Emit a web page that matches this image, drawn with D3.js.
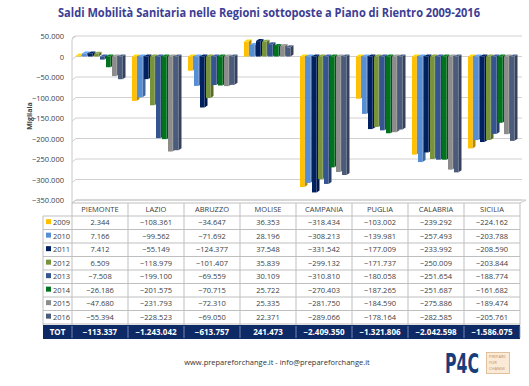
<!DOCTYPE html>
<html>
<head>
<meta charset="utf-8">
<script src="https://cdn.jsdelivr.net/npm/d3@7"></script>
<style>
  body { margin: 0; background: #fff; }
  svg { display: block; }
</style>
</head>
<body>
<div class="canva"></div>
<script>
// dati (migliaia di euro)
const regions = ["PIEMONTE", "LAZIO", "ABRUZZO", "MOLISE", "CAMPANIA", "PUGLIA", "CALABRIA", "SICILIA"];
const years = ["2009", "2010", "2011", "2012", "2013", "2014", "2015", "2016"];
const v2009 = [2344, -108361, -34647, 36353, -318434, -103002, -239292, -224162];
const v2010 = [7166, -99562, -71692, 28196, -308213, -139981, -257493, -203788];
const v2011 = [7412, -55149, -124377, 37548, -331542, -177009, -233992, -208590];
const v2012 = [6509, -118979, -101407, 35839, -299132, -171737, -250009, -203844];
const v2013 = [-7508, -199100, -69559, 30109, -310810, -180058, -251654, -188774];
const v2014 = [-26186, -201575, -70715, 25722, -270403, -187265, -251687, -161682];
const v2015 = [-47680, -231793, -72310, 25335, -281750, -184590, -275886, -189474];
const v2016 = [-55394, -228523, -69050, 22371, -289066, -178164, -282585, -205761];
const totals = [-113337, -1243042, -613757, 241473, -2409350, -1321806, -2042598, -1586075];
const yTicks = [50000, 0, -50000, -100000, -150000, -200000, -250000, -300000, -350000];

const series = [v2009, v2010, v2011, v2012, v2013, v2014, v2015, v2016];
const colors = ["#FFC000", "#558ED5", "#002060", "#77933C", "#34558F", "#00731C", "#8C8C8C", "#4A5B7C"];

const it = d3.formatLocale({ decimal: ",", thousands: ".", grouping: [3], currency: ["€", ""] });
const fmt = it.format(",d");

const W = 529, H = 386;
const svg = d3.select(".canva").append("svg")
    .attr("width", W)
    .attr("height", H)
    .style("font-family", "'Open Sans', 'Liberation Sans', sans-serif");

// titolo
svg.append("text")
    .attr("x", 269).attr("y", 17)
    .attr("text-anchor", "middle")
    .attr("textLength", 422).attr("lengthAdjust", "spacingAndGlyphs")
    .style("font-size", "11.5px").style("font-weight", "bold")
    .style("fill", "#3D3D94")
    .text("Saldi Mobilità Sanitaria nelle Regioni sottoposte a Piano di Rientro 2009-2016");

const left = 72, right = 520;
const y = d3.scaleLinear().domain([-350000, 50000]).range([200, 36]);
const x = d3.scaleBand().domain(regions).range([left, right]);
const xi = d3.scaleBand().domain(years).range([4, 52]);

const dx = 3, dy = -2;

// pareti 3D
svg.append("path")
    .attr("d", `M${left},${y(-350000) + 3} L${left},${y(50000) + 4} Q${left},${y(50000)} ${left + 4},${y(50000)}`)
    .attr("fill", "none").attr("stroke", "#C8C8C8");

const grid = svg.append("g");
yTicks.forEach(t => {
    grid.append("line")
        .attr("x1", left + 4).attr("x2", right + 2)
        .attr("y1", y(t)).attr("y2", y(t))
        .attr("stroke", "#D0D0D0").attr("stroke-width", 1);
    grid.append("line")
        .attr("x1", left).attr("x2", left + 4)
        .attr("y1", y(t) + 3).attr("y2", y(t))
        .attr("stroke", "#D0D0D0");
});

// asse y
const yAxis = svg.append("g")
    .attr("transform", `translate(${left - 8},0)`)
    .call(d3.axisLeft(y).tickValues(yTicks).tickFormat(fmt).tickSize(0));
yAxis.select(".domain").remove();
yAxis.selectAll("text")
    .attr("x", 0).attr("dy", "0.35em")
    .style("font-size", "7.5px").style("fill", "#404040")
    .style("font-family", "'Open Sans', sans-serif");

svg.append("text")
    .attr("transform", `translate(32,${y(-150000) - 2}) rotate(-90)`)
    .attr("text-anchor", "middle")
    .style("font-size", "7px").style("font-weight", "bold").style("fill", "#404040")
    .text("Migliaia");

// barre 3D
function shade(c, k) { return d3.color(c).darker(k).formatHex(); }
const bars = svg.append("g");
series.forEach((vals, s) => {
    const g = bars.append("g");
    regions.forEach((r, i) => {
        const v = vals[i];
        const bx = x(r) + xi(years[s]);
        const bw = xi.bandwidth() - dx + 1.5;
        const top = Math.min(y(0), y(v));
        const bot = Math.max(y(0), y(v));
        // lato
        g.append("path")
            .attr("d", `M${bx + bw},${top} L${bx + bw + dx},${top + dy} L${bx + bw + dx},${bot + dy} L${bx + bw},${bot}Z`)
            .attr("fill", shade(colors[s], 0.9));
        // sopra
        g.append("path")
            .attr("d", `M${bx},${top} L${bx + dx},${top + dy} L${bx + bw + dx},${top + dy} L${bx + bw},${top}Z`)
            .attr("fill", d3.color(colors[s]).brighter(0.4).formatHex());
        // fronte
        g.append("rect")
            .attr("x", bx).attr("y", top)
            .attr("width", bw).attr("height", Math.max(0.5, bot - top))
            .attr("fill", colors[s]);
    });
});

// tabella
const tab = svg.append("g").style("font-size", "7.5px");
const headTop = 203, headH = 13, rowH = 13.5;
const rowTop = headTop + headH;
const labL = 43;
const totTop = rowTop + rowH * years.length + 1;
const totH = 14;

// piano 3D sopra la tabella
tab.append("path")
    .attr("d", `M${left},${headTop} L${left + 4},${headTop - 3} L${right + 6},${headTop - 3} L${right},${headTop}`)
    .attr("fill", "none").attr("stroke", "#C8C8C8");

// righe orizzontali
tab.append("line").attr("x1", left).attr("x2", right).attr("y1", headTop).attr("y2", headTop).attr("stroke", "#BFBFBF");
d3.range(years.length + 1).forEach(k => {
    tab.append("line")
        .attr("x1", labL).attr("x2", right)
        .attr("y1", rowTop + k * rowH).attr("y2", rowTop + k * rowH)
        .attr("stroke", "#BFBFBF");
});
// verticali
tab.append("line").attr("x1", labL).attr("x2", labL).attr("y1", rowTop).attr("y2", totTop).attr("stroke", "#BFBFBF");
regions.concat(["end"]).forEach((r, i) => {
    const xx = left + i * x.bandwidth();
    tab.append("line").attr("x1", xx).attr("x2", xx).attr("y1", headTop).attr("y2", totTop).attr("stroke", "#BFBFBF");
});

tab.selectAll(".hdr").data(regions).enter().append("text")
    .attr("x", d => x(d) + x.bandwidth() / 2)
    .attr("y", headTop + headH / 2 + 2.6)
    .attr("text-anchor", "middle")
    .style("fill", "#404040")
    .text(d => d);

years.forEach((yr, s) => {
    const cy = rowTop + s * rowH + rowH / 2 + 2.6;
    tab.append("rect")
        .attr("x", labL + 3).attr("y", cy - 6.2)
        .attr("width", 5).attr("height", 5)
        .attr("fill", colors[s]);
    tab.append("text")
        .attr("x", labL + 10).attr("y", cy)
        .style("fill", "#404040")
        .text(yr);
    tab.selectAll(".c" + yr).data(series[s]).enter().append("text")
        .attr("x", (d, i) => x(regions[i]) + x.bandwidth() / 2)
        .attr("y", cy)
        .attr("text-anchor", "middle")
        .style("fill", "#404040")
        .text(d => fmt(d));
});

// riga totale
tab.append("rect")
    .attr("x", labL).attr("y", totTop)
    .attr("width", right - labL).attr("height", totH)
    .attr("fill", "#0E2A66");
regions.concat(["end"]).forEach((r, i) => {
    const xx = left + i * x.bandwidth();
    tab.append("line").attr("x1", xx).attr("x2", xx).attr("y1", totTop + 1).attr("y2", totTop + totH - 1)
        .attr("stroke", "#8A9CC4").attr("stroke-width", 0.8);
});
tab.append("text")
    .attr("x", (labL + left) / 2).attr("y", totTop + totH / 2 + 3)
    .attr("text-anchor", "middle")
    .style("fill", "#fff").style("font-weight", "bold").style("font-size", "8px")
    .text("TOT");
tab.selectAll(".tot").data(totals).enter().append("text")
    .attr("x", (d, i) => x(regions[i]) + x.bandwidth() / 2)
    .attr("y", totTop + totH / 2 + 3)
    .attr("text-anchor", "middle")
    .style("fill", "#fff").style("font-weight", "bold").style("font-size", "8px")
    .text(d => fmt(d));

// piè di pagina
svg.append("text")
    .attr("x", 277).attr("y", 365)
    .attr("text-anchor", "middle")
    .style("font-size", "7.5px").style("fill", "#333")
    .text("www.prepareforchange.it - info@prepareforchange.it");

// logo
svg.append("text")
    .attr("x", 445).attr("y", 373)
    .attr("textLength", 34).attr("lengthAdjust", "spacingAndGlyphs")
    .style("font-size", "27px").style("font-weight", "900")
    .style("font-family", "'DejaVu Sans Condensed', 'DejaVu Sans', sans-serif")
    .style("fill", "#1B3C7A")
    .text("P4C");
svg.append("rect")
    .attr("x", 486.5).attr("y", 352.5).attr("width", 23).attr("height", 21)
    .attr("fill", "#FBEBD6").attr("stroke", "#D9B38A").attr("stroke-width", 0.8);
const badge = svg.append("text")
    .attr("transform", "translate(489,352.5) scale(0.5)")
    .style("font-size", "8px").style("fill", "#C28B5C");
["PREPARE", "FOR", "CHANGE"].forEach((w, k) => {
    badge.append("tspan")
        .attr("x", 0).attr("y", 11 + k * 12)
        .text(w);
});
</script>
</body>
</html>
